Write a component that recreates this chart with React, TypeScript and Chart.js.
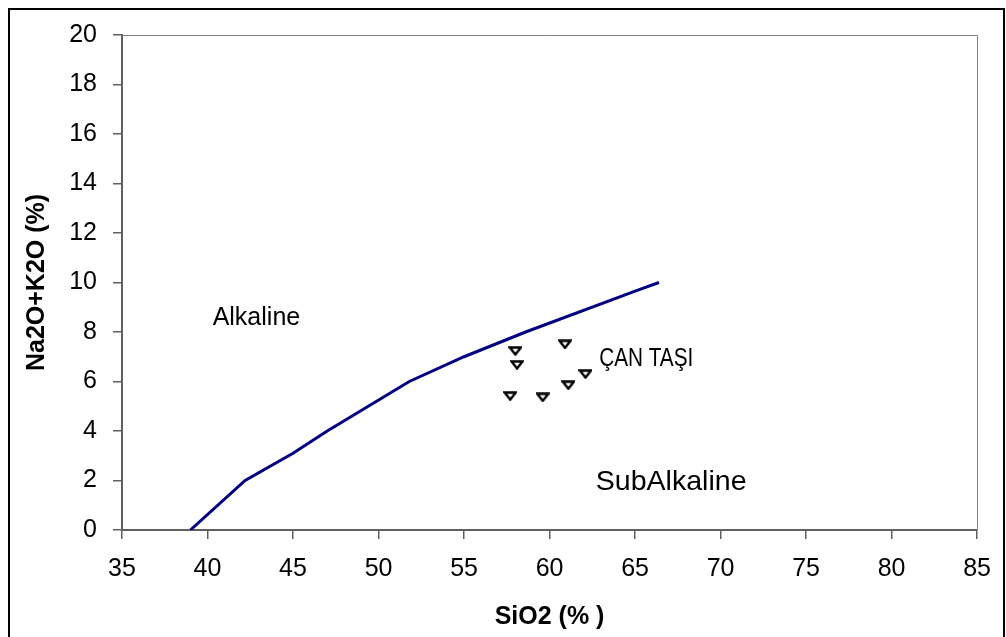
import { useEffect, useRef } from "react";
import { Chart, registerables } from "chart.js";

Chart.register(...registerables);

// Alkaline / SubAlkaline boundary line (SiO2 %, Na2O+K2O %)
const boundarySiO2 = [39.0, 42.2, 45.0, 47.0, 51.8, 55.0, 58.6, 65.2, 66.4];
const boundaryAlkali = [0, 2.0, 3.1, 4.0, 6.0, 7.0, 8.0, 9.7, 10.0];

// ÇAN TAŞI samples
const sampleSiO2 = [58.0, 60.9, 58.1, 62.1, 61.1, 57.7, 59.6];
const sampleAlkali = [7.23, 7.5, 6.67, 6.3, 5.85, 5.41, 5.36];

// Axis ticks
const xTicks = [35, 40, 45, 50, 55, 60, 65, 70, 75, 80, 85];
const yTicks = [0, 2, 4, 6, 8, 10, 12, 14, 16, 18, 20];

// Region labels (text, anchored in data units)
const regionLabels = ["Alkaline", "ÇAN TAŞI", "SubAlkaline"];
const regionLabelX = [40.3, 62.9, 62.7];
const regionLabelY = [8.28, 6.63, 1.62];

const FONT = '"Liberation Sans", Arial, sans-serif';
const W = 1006;
const H = 637;

// per-label text styling: [font size, horizontal scale]
const labelStyles: [number, number][] = [
  [25, 1],
  [25, 0.83],
  [28, 1.02],
];

function makeTriangle(): HTMLCanvasElement {
  const c = document.createElement("canvas");
  c.width = 14;
  c.height = 10;
  const g = c.getContext("2d")!;
  g.beginPath();
  g.moveTo(1.5, 1.5);
  g.lineTo(12.5, 1.5);
  g.lineTo(7, 8.5);
  g.closePath();
  g.fillStyle = "#ffffff";
  g.fill();
  g.strokeStyle = "#000000";
  g.lineWidth = 2.4;
  g.lineJoin = "miter";
  g.stroke();
  return c;
}

const decor = {
  id: "decor",
  beforeDraw(chart: any) {
    const { ctx } = chart;
    ctx.save();
    ctx.fillStyle = "#ffffff";
    ctx.fillRect(0, 0, W, H);
    ctx.restore();
  },
  beforeDatasetsDraw(chart: any) {
    const { ctx, chartArea } = chart;
    const { left, top, right, bottom } = chartArea;
    ctx.save();
    ctx.strokeStyle = "#808080";
    ctx.lineWidth = 1;
    ctx.beginPath();
    ctx.moveTo(left, Math.round(top) + 0.5);
    ctx.lineTo(Math.round(right) + 0.5, Math.round(top) + 0.5);
    ctx.lineTo(Math.round(right) + 0.5, bottom);
    ctx.stroke();
    ctx.restore();
  },
  afterDraw(chart: any) {
    const { ctx, scales } = chart;
    const x = scales.x;
    const y = scales.y;
    ctx.save();
    ctx.fillStyle = "#000000";
    ctx.textAlign = "left";
    ctx.textBaseline = "alphabetic";
    regionLabels.forEach((t, i) => {
      const px = x.getPixelForValue(regionLabelX[i]);
      const py = y.getPixelForValue(regionLabelY[i]);
      const [size, sx] = labelStyles[i];
      ctx.save();
      ctx.font = `${size}px ${FONT}`;
      ctx.translate(px, py);
      ctx.scale(sx, 1);
      ctx.fillText(t, 0, 0);
      ctx.restore();
    });
    ctx.strokeStyle = "#000000";
    ctx.lineWidth = 2;
    ctx.strokeRect(9, 9, 995, 640);
    ctx.restore();
  },
};

export default function App() {
  const ref = useRef<HTMLCanvasElement | null>(null);

  useEffect(() => {
    if (!ref.current) return;
    const tri = makeTriangle();
    const chart = new Chart(ref.current, {
      type: "scatter",
      data: {
        datasets: [
          {
            label: "Boundary",
            data: boundarySiO2.map((v, i) => ({ x: v, y: boundaryAlkali[i] })),
            showLine: true,
            borderColor: "#000080",
            borderWidth: 3,
            pointRadius: 0,
            pointHoverRadius: 0,
            fill: false,
            tension: 0,
          },
          {
            label: "ÇAN TAŞI",
            data: sampleSiO2.map((v, i) => ({ x: v, y: sampleAlkali[i] })),
            pointStyle: tri as any,
            pointRadius: 6,
            showLine: false,
          },
        ],
      },
      options: {
        responsive: false,
        animation: false,
        devicePixelRatio: 1,
        layout: { padding: { left: 0, right: 22, top: 35, bottom: 0 } },
        plugins: {
          legend: { display: false },
          tooltip: { enabled: false },
          title: { display: false },
        },
        scales: {
          x: {
            type: "linear",
            min: 35,
            max: 85,
            afterBuildTicks: (s: any) => {
              s.ticks = xTicks.map((v) => ({ value: v }));
            },
            afterFit: (s: any) => {
              s.height = 107;
            },
            ticks: {
              font: { family: FONT, size: 25 },
              color: "#000000",
              padding: 15,
              maxRotation: 0,
              autoSkip: false,
            },
            grid: {
              display: true,
              drawOnChartArea: false,
              drawTicks: true,
              tickLength: 9,
              color: "#606060",
              lineWidth: 1.5,
            },
            border: { display: true, color: "#606060", width: 2 },
            title: {
              display: true,
              text: "SiO2 (% )",
              font: { family: FONT, size: 25, weight: "bold" },
              color: "#000000",
              padding: { top: 0, bottom: 5 },
            },
          },
          y: {
            type: "linear",
            min: 0,
            max: 20,
            afterBuildTicks: (s: any) => {
              s.ticks = yTicks.map((v) => ({ value: v }));
            },
            afterFit: (s: any) => {
              s.width = 122;
            },
            ticks: {
              font: { family: FONT, size: 25 },
              color: "#000000",
              padding: 16,
              autoSkip: false,
            },
            grid: {
              display: true,
              drawOnChartArea: false,
              drawTicks: true,
              tickLength: 9,
              color: "#606060",
              lineWidth: 1.5,
            },
            border: { display: true, color: "#606060", width: 2 },
            title: {
              display: true,
              text: "Na2O+K2O (%)",
              font: { family: FONT, size: 25, weight: "bold" },
              color: "#000000",
              padding: { top: 22, bottom: 0 },
            },
          },
        },
      },
      plugins: [decor],
    });
    return () => chart.destroy();
  }, []);

  return (
    <div style={{ position: "fixed", left: 0, top: 0, width: W, height: H }}>
      <canvas ref={ref} width={W} height={H} style={{ width: W, height: H, display: "block" }} />
    </div>
  );
}
